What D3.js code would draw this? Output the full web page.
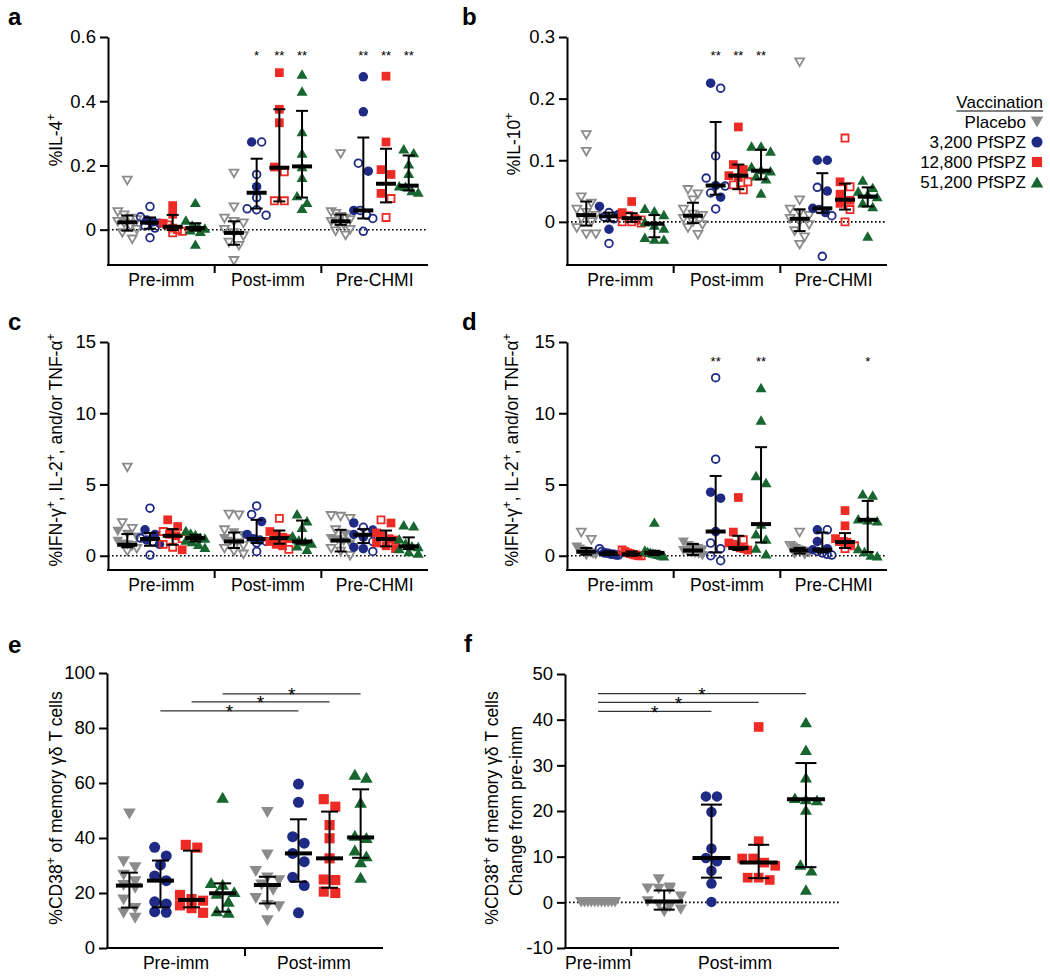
<!DOCTYPE html>
<html>
<head>
<meta charset="utf-8">
<script src="https://cdn.jsdelivr.net/npm/d3@7"></script>
<style>
  body { margin: 0; background: #fff; }
  text { font-family: "Liberation Sans", Arial, Helvetica, sans-serif; }
</style>
</head>
<body>
<svg width="1050" height="978"></svg>
<script>
// ---------------- data ----------------
var vaccines = ["Placebo", "3,200 PfSPZ", "12,800 PfSPZ", "51,200 PfSPZ"];
var timepoints3 = ["Pre-imm", "Post-imm", "Pre-CHMI"];
var timepoints2 = ["Pre-imm", "Post-imm"];

// panel a: %IL-4+   [timepoint][vaccine]
var il4Filled = [
  [[], [0.03, 0.025], [0.075, 0.048, 0.02], [0.085, 0.03, 0.015, 0.01, 0.005, 0.0, -0.005, -0.045]],
  [[], [0.273, 0.134], [0.489, 0.375, 0.333, 0.195], [0.485, 0.432, 0.306, 0.239, 0.197, 0.163, 0.106, 0.085, 0.067]],
  [[], [0.476, 0.367, 0.182, 0.06], [0.478, 0.273, 0.187, 0.172, 0.113], [0.252, 0.24, 0.205, 0.176, 0.137, 0.135, 0.122, 0.117]]
];
var il4Open = [
  [[0.153, 0.055, 0.045, 0.035, 0.03, 0.025, 0.02, 0.01, 0.0, -0.01, -0.03], [0.072, 0.04, 0.012, 0.005, -0.025, 0.02], [0.015, 0.005, 0.0, -0.005, -0.01], []],
  [[0.175, 0.07, 0.035, 0.025, 0.02, 0.0, -0.01, -0.02, -0.04, -0.05, -0.097], [0.273, 0.172, 0.1, 0.065, 0.062, 0.045], [0.18, 0.09, 0.09], []],
  [[0.236, 0.055, 0.05, 0.04, 0.035, 0.03, 0.025, 0.02, 0.015, 0.0, -0.005, -0.018], [0.207, 0.06, 0.045, 0.035, -0.005], [0.097, 0.038], []]
];
var il4Med = [[0.023, 0.022, 0.009, 0.005], [-0.01, 0.115, 0.193, 0.197], [0.026, 0.06, 0.143, 0.137]];
var il4Lo = [[-0.003, 0.003, -0.001, -0.003], [-0.047, 0.066, 0.088, 0.1], [0.015, 0.035, 0.085, 0.122]];
var il4Hi = [[0.044, 0.038, 0.046, 0.02], [0.026, 0.221, 0.375, 0.37], [0.047, 0.287, 0.252, 0.231]];
var il4Stars = [["", "", "", ""], ["", "*", "**", "**"], ["", "**", "**", "**"]];

// panel b: %IL-10+
var il10Filled = [
  [[], [0.025, 0.012, -0.012], [0.033, 0.015], [0.022, 0.018, 0.012, 0.0, -0.005, -0.01, -0.025, -0.028, -0.028]],
  [[], [0.225, 0.059, 0.04], [0.154, 0.093, 0.085, 0.075, 0.072], [0.123, 0.123, 0.115, 0.09, 0.085, 0.083, 0.075, 0.07, 0.047]],
  [[], [0.1, 0.1, 0.05, 0.022, 0.015], [0.065, 0.045, 0.035, 0.03], [0.068, 0.056, 0.05, 0.045, 0.041, 0.031, 0.025, -0.023]]
];
var il10Open = [
  [[0.141, 0.114, 0.04, 0.03, 0.02, 0.015, 0.01, 0.005, 0.0, -0.01, -0.02, -0.02], [0.015, 0.008, 0.005, -0.035], [0.01, 0.005, 0.003, 0.0, -0.002, 0.0], []],
  [[0.052, 0.045, 0.035, 0.02, 0.012, 0.01, 0.005, 0.0, -0.005, -0.01, -0.021], [0.217, 0.107, 0.071, 0.058, 0.047, 0.021], [0.065, 0.06, 0.052], []],
  [[0.259, 0.035, 0.02, 0.015, 0.01, 0.005, 0.0, -0.005, -0.015, -0.025, -0.037], [0.056, 0.02, 0.01, -0.056], [0.136, 0.057, 0.02, 0.0], []]
];
var il10Med = [[0.011, 0.009, 0.006, -0.003], [0.01, 0.059, 0.075, 0.083], [0.005, 0.022, 0.036, 0.041]];
var il10Lo = [[-0.006, 0.001, 0.0, -0.025], [-0.002, 0.044, 0.053, 0.069], [-0.015, 0.015, 0.02, 0.025]];
var il10Hi = [[0.033, 0.015, 0.014, 0.011], [0.031, 0.162, 0.093, 0.117], [0.02, 0.079, 0.062, 0.056]];
var il10Stars = [["", "", "", ""], ["", "**", "**", "**"], ["", "", "", ""]];

// panel c: %IFN-g+, IL-2+ and/or TNF-a+ (first stimulation)
var cytoCFilled = [
  [[1.7, 1.5, 1.3, 1.0, 0.8, 0.75], [1.82, 1.5, 1.1, 0.8], [2.52, 2.05, 1.5, 1.4, 0.42], [1.77, 1.6, 1.5, 1.3, 1.24, 1.1, 1.0, 0.8, 0.6]],
  [[1.6, 1.4, 1.2, 1.0, 0.9], [2.4, 1.5, 1.2, 1.1], [1.7, 1.5, 1.3, 1.2, 1.0, 0.8, 0.7], [2.94, 2.45, 2.0, 1.4, 1.1, 1.0, 0.9, 0.7, 0.45]],
  [[1.5, 1.2, 1.1, 1.0, 0.8], [2.3, 1.8, 1.5, 1.3, 0.6, 0.5], [2.3, 1.6, 1.4, 1.2, 1.1, 0.9, 0.7, 0.5], [2.17, 2.1, 1.2, 0.9, 0.7, 0.65, 0.5, 0.3, 0.2]]
];
var cytoCOpen = [
  [[6.2, 2.3, 1.9, 0.7, 0.5, 0.3], [3.34, 1.24, 1.0, 0.05], [1.7, 1.2, 0.8, 0.6], []],
  [[2.9, 2.85, 1.8, 0.7, 0.5, 0.3, 0.1], [3.5, 2.9, 1.0, 0.9, 0.3], [2.62, 0.45], []],
  [[2.8, 2.75, 2.6, 1.8, 0.5, 0.3, 0.0], [2.0, 1.0, 0.3], [2.52], []]
];
var cytoCMed = [[0.77, 1.17, 1.4, 1.24], [1.0, 1.17, 1.24, 1.0], [1.07, 1.47, 1.17, 0.66]];
var cytoCLo = [[0.6, 0.7, 0.77, 1.0], [0.54, 0.89, 0.84, 0.85], [0.3, 0.89, 0.66, 0.47]];
var cytoCHi = [[1.52, 1.6, 1.87, 1.47], [1.63, 2.52, 1.77, 2.47], [1.82, 1.87, 1.77, 1.29]];
var cytoCStars = [["", "", "", ""], ["", "", "", ""], ["", "", "", ""]];

// panel d: %IFN-g+, IL-2+ and/or TNF-a+ (second stimulation)
var cytoDFilled = [
  [[0.6, 0.45, 0.35, 0.3, 0.25, 0.2, 0.1, 0.05, 0.0], [0.2, 0.1, 0.05], [0.3, 0.15, 0.0], [2.36, 0.4, 0.3, 0.25, 0.2, 0.15, 0.1, 0.05, 0.0]],
  [[0.95, 0.7, 0.6, 0.5, 0.4, 0.35, 0.3, 0.2, 0.15, 0.1, 0.0], [4.46, 4.04, 1.7], [4.09, 1.66, 0.9, 0.7, 0.55, 0.5, 0.4], [11.8, 9.53, 5.63, 5.14, 2.22, 1.54, 1.17, 0.54, 0.14]],
  [[0.6, 0.5, 0.4, 0.35, 0.3, 0.25, 0.2, 0.1, 0.05], [1.82, 1.0, 0.5, 0.42], [3.17, 2.1, 1.2, 1.0, 0.95, 0.8], [4.35, 4.27, 2.6, 2.52, 2.45, 0.5, 0.3, 0.05, 0.0]]
];
var cytoDOpen = [
  [[1.63, 1.12], [0.5, 0.3, 0.2, 0.15, 0.1, 0.05], [0.4, 0.2, 0.1, 0.05, 0.0], []],
  [[], [12.5, 6.78, 0.89, 0.5, 0.0, -0.35], [1.12, 0.8], []],
  [[1.63, 0.7], [1.82, 0.3, 0.2, 0.1, 0.05], [1.0, 0.7, 0.5], []]
];
var cytoDMed = [[0.28, 0.15, 0.1, 0.2], [0.37, 1.7, 0.54, 2.22], [0.37, 0.42, 0.96, 2.52]];
var cytoDLo = [[0.07, 0.05, 0.0, 0.05], [0.05, 0.23, 0.4, 0.93], [0.15, 0.23, 0.54, 0.26]];
var cytoDHi = [[0.54, 0.3, 0.3, 0.35], [0.82, 5.6, 1.4, 7.62], [0.55, 1.63, 1.59, 3.85]];
var cytoDStars = [["", "", "", ""], ["", "**", "", "**"], ["", "", "", "*"]];

// panel e: %CD38+ of memory gd T cells
var cd38Values = [
  [[48.7, 31.4, 29.2, 26.5, 24.1, 22.7, 21.7, 17.5, 14.4, 12.6, 10.8], [36.6, 33.5, 30.2, 26.2, 24.5, 16.8, 16.0, 13.2, 13.0], [37.5, 36.5, 19.3, 17.8, 17.2, 15.5, 14.5, 12.8], [54.8, 23.8, 23.2, 20.5, 19.9, 17.0, 13.5, 13.0]],
  [[49.3, 33.8, 27.8, 25.5, 24.5, 22.9, 21.0, 18.0, 15.5, 15.0, 9.9], [59.6, 53.0, 40.5, 38.1, 34.4, 31.4, 25.7, 22.7, 12.8], [54.1, 51.4, 44.7, 39.9, 32.6, 24.9, 24.7, 20.5, 20.0], [63.2, 62.1, 53.0, 41.0, 40.2, 35.6, 33.5, 31.4, 25.7]]
];
var cd38Med = [[22.7, 24.5, 17.5, 19.9], [22.9, 34.4, 32.6, 40.2]];
var cd38Lo = [[14.7, 14.8, 14.8, 13.2], [16.2, 24.1, 21.9, 32.8]];
var cd38Hi = [[27.4, 31.8, 35.4, 23.5], [25.9, 46.8, 49.6, 57.7]];
var cd38SigY = [86.2, 89.5, 92.4];

// panel f: change from pre-imm
var deltaCats = [[0], [0, 1, 2, 3]];
var deltaValues = [
  [[0, 0, 0, 0, 0, 0, 0, 0, 0, 0, 0]],
  [[5.0, 3.2, 3.0, 2.9, 2.8, 1.2, 0.2, -0.5, -1.0, -1.6, -2.1], [23.2, 23.2, 19.8, 11.8, 9.7, 9.0, 6.9, 4.1, 0.1], [38.4, 13.4, 9.6, 9.6, 8.7, 8.0, 5.4, 5.4, 4.9], [39.5, 33.4, 27.4, 22.9, 22.6, 22.4, 20.3, 8.3, 7.0, 2.8]]
];
var deltaMed = [[null], [0.2, 9.7, 8.7, 22.6]];
var deltaLo = [[null], [-1.6, 5.4, 5.3, 7.7]];
var deltaHi = [[null], [2.6, 21.4, 12.6, 30.5]];
var deltaSigY = [41.8, 43.8, 45.7];

// ---------------- drawing ----------------
var svg = d3.select("svg");
var colors = ["#8b8b8b", "#1f2a85", "#ee2a24", "#17652f"];
var shapes = ["triDown", "circle", "square", "triUp"];
var FONT = "'Liberation Sans', Arial, Helvetica, sans-serif";

function markerPath(shape, s, open) {
  var k = open ? s - 1.8 : s;
  if (shape === "circle") {
    var r = k / 2;
    return "M" + (-r) + ",0A" + r + "," + r + " 0 1,0 " + r + ",0A" + r + "," + r + " 0 1,0 " + (-r) + ",0Z";
  }
  if (shape === "square") {
    var h = k * 0.46;
    return "M" + (-h) + "," + (-h) + "H" + h + "V" + h + "H" + (-h) + "Z";
  }
  var side = k * 1.15, th = side * 0.866;
  if (shape === "triUp")
    return "M0," + (-th / 2) + "L" + (side / 2) + "," + (th / 2) + "L" + (-side / 2) + "," + (th / 2) + "Z";
  return "M0," + (th / 2) + "L" + (side / 2) + "," + (-th / 2) + "L" + (-side / 2) + "," + (-th / 2) + "Z";
}

// GraphPad-like scatter: points close in y share a row and spread symmetrically
function swarm(pts, y, dia, maxW) {
  var sorted = pts.slice().sort(function(a, b) { return b.v - a.v; });
  var rows = [];
  sorted.forEach(function(p) {
    var py = y(p.v), last = rows[rows.length - 1];
    if (last && Math.abs(py - last.y0) < dia * 0.85) last.items.push(p);
    else rows.push({ y0: py, items: [p] });
  });
  rows.forEach(function(r) {
    var n = r.items.length;
    var step = n > 1 ? Math.min(dia * 1.05, maxW / (n - 1)) : 0;
    r.items.forEach(function(p, i) { p.dx = (i - (n - 1) / 2) * step; });
  });
  return sorted;
}

function drawPanel(p) {
  var g = svg.append("g");
  var y = d3.scaleLinear().domain(p.domain).range([p.yBot, p.yTop]);
  var weights = p.cats.map(function(c) { return c.length + 0.4; });
  var cum = [0].concat(Array.from(d3.cumsum(weights)));
  var bx = d3.scaleLinear().domain([0, d3.sum(weights)]).range([p.x0, p.x1]);
  var bands = weights.map(function(w, i) { return [bx(cum[i]), bx(cum[i + 1])]; });
  var xs = p.cats.map(function(c, i) { return d3.scalePoint().domain(c).range(bands[i]).padding(p.pad); });

  if (p.zero) {
    g.append("line").attr("x1", p.x0).attr("x2", p.x1).attr("y1", y(0)).attr("y2", y(0))
      .attr("stroke", "#000").attr("stroke-width", 1.6).attr("stroke-dasharray", "1.6,2.4");
  }

  p.cats.forEach(function(cs, gi) {
    cs.forEach(function(k, ci) {
      var pts = p.filled[gi][ci].map(function(v) { return { v: v, open: false }; })
        .concat((p.open ? p.open[gi][ci] : []).map(function(v) { return { v: v, open: true }; }));
      var laid = swarm(pts, y, p.size, p.maxW);
      var cx = xs[gi](k);
      g.append("g").selectAll("path").data(laid).enter().append("path")
        .attr("transform", function(d) { return "translate(" + (cx + d.dx) + "," + y(d.v) + ")"; })
        .attr("d", function(d) { return markerPath(shapes[k], p.size, d.open); })
        .attr("fill", function(d) { return d.open ? "none" : colors[k]; })
        .attr("stroke", function(d) { return d.open ? colors[k] : "none"; })
        .attr("stroke-width", 1.8);

      var m = p.med[gi][ci];
      if (m != null) {
        var eb = g.append("g").attr("stroke", "#000");
        eb.append("line").attr("x1", cx).attr("x2", cx).attr("y1", y(p.lo[gi][ci])).attr("y2", y(p.hi[gi][ci])).attr("stroke-width", 2);
        [p.lo[gi][ci], p.hi[gi][ci]].forEach(function(v) {
          eb.append("line").attr("x1", cx - p.capW / 2).attr("x2", cx + p.capW / 2)
            .attr("y1", y(v)).attr("y2", y(v)).attr("stroke-width", 2);
        });
        eb.append("line").attr("x1", cx - p.medW / 2).attr("x2", cx + p.medW / 2)
          .attr("y1", y(m)).attr("y2", y(m)).attr("stroke-width", 4);
      }
      if (p.stars && p.stars[gi][ci]) {
        g.append("text").attr("x", cx).attr("y", p.starBase).attr("text-anchor", "middle")
          .attr("font-size", p.starFont).text(p.stars[gi][ci]);
      }
    });
  });

  // y axis
  var ya = g.append("g").attr("transform", "translate(" + p.x0 + ",0)")
    .call(d3.axisLeft(y).tickValues(p.ticks).tickFormat(p.fmt).tickSize(8).tickSizeOuter(0).tickPadding(4));
  ya.attr("font-size", 18.5).attr("font-family", FONT);
  ya.select(".domain").attr("stroke-width", 2);
  ya.selectAll(".tick line").attr("stroke-width", 2);
  ya.selectAll(".tick text").attr("fill", "#000");

  // x axis with group separators
  g.append("line").attr("x1", p.x0 - 1).attr("x2", p.x1).attr("y1", p.yBot).attr("y2", p.yBot)
    .attr("stroke", "#000").attr("stroke-width", 2);
  bands.slice(1).forEach(function(b) {
    g.append("line").attr("x1", b[0]).attr("x2", b[0]).attr("y1", p.yBot).attr("y2", p.yBot + 8)
      .attr("stroke", "#000").attr("stroke-width", 2);
  });
  p.groups.forEach(function(name, i) {
    g.append("text").attr("x", (bands[i][0] + bands[i][1]) / 2).attr("y", p.yBot + 21)
      .attr("text-anchor", "middle").attr("font-size", 17.5).text(name);
  });

  return { g: g, y: y, xs: xs };
}

function yLabel(x, y, parts) {
  var t = svg.append("text").attr("transform", "translate(" + x + "," + y + ") rotate(-90)")
    .attr("text-anchor", "middle").attr("font-size", 17.5);
  var up = false;
  parts.forEach(function(s) {
    var sup = s.charAt(0) === "^";
    var ts = t.append("tspan").text(sup ? s.slice(1) : s);
    if (sup && !up) { ts.attr("dy", -7).attr("font-size", 12); up = true; }
    else if (sup) { ts.attr("font-size", 12); }
    else if (up) { ts.attr("dy", 7); up = false; }
  });
}

function panelLetter(x, y, s) {
  svg.append("text").attr("x", x).attr("y", y).attr("font-size", 24).attr("font-weight", "bold").text(s);
}

function sigBar(pan, gA, kA, gB, kB, v) {
  var xa = pan.xs[gA](kA), xb = pan.xs[gB](kB), yy = pan.y(v);
  pan.g.append("line").attr("x1", xa).attr("x2", xb).attr("y1", yy).attr("y2", yy)
    .attr("stroke", "#333").attr("stroke-width", 1.2);
  pan.g.append("text").attr("x", (xa + xb) / 2).attr("y", yy + 7.5).attr("text-anchor", "middle")
    .attr("font-size", 19).text("*");
}

var cats4 = [0, 1, 2, 3];
var fmt1 = function(v) { return v === 0 ? "0" : d3.format(".1f")(v); };
var fmt0 = function(v) { return String(v); };

var common = { pad: 0.85, size: 9.5, medW: 20, capW: 12, maxW: 19, starFont: 13, zero: true };

drawPanel(Object.assign({}, common, {
  x0: 108, x1: 428, yTop: 37, yBot: 265, domain: [-0.11, 0.6], ticks: [0, 0.2, 0.4, 0.6], fmt: fmt1,
  groups: timepoints3, cats: [cats4, cats4, cats4],
  filled: il4Filled, open: il4Open, med: il4Med, lo: il4Lo, hi: il4Hi, stars: il4Stars, starBase: 60
}));
drawPanel(Object.assign({}, common, {
  x0: 567, x1: 887, yTop: 37, yBot: 265, domain: [-0.07, 0.3], ticks: [0, 0.1, 0.2, 0.3], fmt: fmt1,
  groups: timepoints3, cats: [cats4, cats4, cats4],
  filled: il10Filled, open: il10Open, med: il10Med, lo: il10Lo, hi: il10Hi, stars: il10Stars, starBase: 60
}));
drawPanel(Object.assign({}, common, {
  x0: 108, x1: 428, yTop: 342, yBot: 570, domain: [-1, 15], ticks: [0, 5, 10, 15], fmt: fmt0,
  groups: timepoints3, cats: [cats4, cats4, cats4],
  filled: cytoCFilled, open: cytoCOpen, med: cytoCMed, lo: cytoCLo, hi: cytoCHi, stars: cytoCStars, starBase: 366
}));
drawPanel(Object.assign({}, common, {
  x0: 567, x1: 887, yTop: 342, yBot: 570, domain: [-1, 15], ticks: [0, 5, 10, 15], fmt: fmt0,
  groups: timepoints3, cats: [cats4, cats4, cats4],
  filled: cytoDFilled, open: cytoDOpen, med: cytoDMed, lo: cytoDLo, hi: cytoDHi, stars: cytoDStars, starBase: 366
}));
var panE = drawPanel({
  x0: 107, x1: 383, yTop: 673, yBot: 948, domain: [0, 100], ticks: d3.range(0, 101, 20), fmt: fmt0,
  groups: timepoints2, cats: [cats4, cats4], pad: 0.72, size: 11, medW: 27, capW: 17, maxW: 24, zero: false,
  filled: cd38Values, open: null, med: cd38Med, lo: cd38Lo, hi: cd38Hi
});
[1, 2, 3].forEach(function(k, i) { sigBar(panE, 0, k, 1, k, cd38SigY[i]); });

var panF = drawPanel({
  x0: 565, x1: 839, yTop: 674, yBot: 948, domain: [-10, 50], ticks: d3.range(-10, 51, 10), fmt: fmt0,
  groups: timepoints2, cats: deltaCats, pad: 0.7, size: 10.5, medW: 38, capW: 21, maxW: 34, zero: true,
  filled: deltaValues, open: null, med: deltaMed, lo: deltaLo, hi: deltaHi
});
[1, 2, 3].forEach(function(k, i) { sigBar(panF, 0, 0, 1, k, deltaSigY[i]); });

// axis titles
yLabel(62, 140, ["%IL-4", "^+"]);
yLabel(520, 144, ["%IL-10", "^+"]);
yLabel(62, 450, ["%IFN-\u03b3", "^+", ", IL-2", "^+", ", and/or TNF-\u03b1", "^+"]);
yLabel(518, 450, ["%IFN-\u03b3", "^+", ", IL-2", "^+", ", and/or TNF-\u03b1", "^+"]);
yLabel(62, 808, ["%CD38", "^+", " of memory \u03b3\u03b4 T cells"]);
yLabel(498, 808, ["%CD38", "^+", " of memory \u03b3\u03b4 T cells"]);
yLabel(522, 811, ["Change from pre-imm"]);

panelLetter(8, 25, "a");
panelLetter(462, 25, "b");
panelLetter(8, 330, "c");
panelLetter(462, 330, "d");
panelLetter(8, 653, "e");
panelLetter(464, 652, "f");

// legend
var lg = svg.append("g");
var title = lg.append("text").attr("x", 1043).attr("y", 108).attr("text-anchor", "end")
  .attr("font-size", 17).text("Vaccination");
var tw = title.node().getComputedTextLength();
lg.append("line").attr("x1", 1043 - tw).attr("x2", 1043).attr("y1", 111).attr("y2", 111)
  .attr("stroke", "#000").attr("stroke-width", 1.2);
vaccines.forEach(function(name, i) {
  var yy = 128 + i * 20;
  lg.append("text").attr("x", 1026).attr("y", yy).attr("text-anchor", "end").attr("font-size", 17).text(name);
  lg.append("path").attr("transform", "translate(1037," + (yy - 6) + ")")
    .attr("d", markerPath(shapes[i], 11, false)).attr("fill", colors[i]);
});
</script>
</body>
</html>
